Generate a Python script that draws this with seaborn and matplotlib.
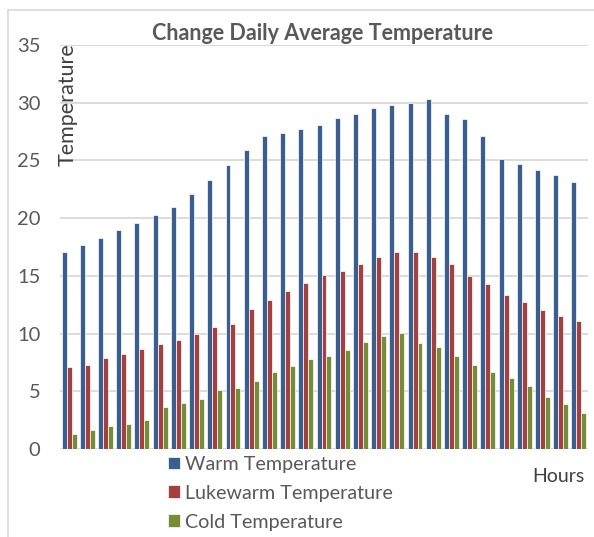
import pandas as pd
import matplotlib.pyplot as plt
import seaborn as sns
from matplotlib.lines import Line2D

hours = list(range(1, 30))
warm = [17.1, 17.7, 18.25, 18.95, 19.6, 20.3, 21.0, 22.1, 23.3, 24.6,
        25.9, 27.1, 27.4, 27.75, 28.05, 28.7, 29.0, 29.5, 29.8, 29.95,
        30.3, 29.05, 28.6, 27.1, 25.1, 24.7, 24.2, 23.7, 23.1]
lukewarm = [7.1, 7.3, 7.9, 8.2, 8.7, 9.1, 9.4, 10.0, 10.6, 10.85,
            12.1, 12.95, 13.7, 14.4, 15.1, 15.4, 16.05, 16.6, 17.1, 17.1,
            16.6, 16.0, 14.95, 14.3, 13.3, 12.7, 12.0, 11.5, 11.1]
cold = [1.3, 1.65, 2.0, 2.2, 2.5, 3.6, 4.0, 4.3, 5.1, 5.3,
        5.9, 6.7, 7.2, 7.8, 8.05, 8.6, 9.3, 9.8, 10.05, 9.2,
        8.8, 8.05, 7.25, 6.7, 6.15, 5.45, 4.5, 3.9, 3.1]
series = ["Warm Temperature", "Lukewarm Temperature", "Cold Temperature"]
colors = ["#2c5c9b", "#b33131", "#7a9b28"]

df = pd.DataFrame({"Hour": hours * 3,
                   "Value": warm + lukewarm + cold,
                   "Series": [series[0]] * 29 + [series[1]] * 29 + [series[2]] * 29})

sns.set_style("white")
plt.rcParams["font.family"] = ["Lato", "DejaVu Sans"]
grey = "#595959"

fig = plt.figure(figsize=(5.94, 5.37), dpi=100)
ax = fig.add_axes([60 / 594, 1 - 449 / 537, 528 / 594, 404 / 537])

sns.barplot(data=df, x="Hour", y="Value", hue="Series", palette=colors,
            width=0.82, edgecolor="white", linewidth=0.5, ax=ax)

ax.set_ylim(0, 35)
ax.set_xlim(-0.5, 28.5)
ax.set_yticks(range(0, 36, 5))
ax.yaxis.grid(True, color="#d9d9d9", linewidth=1.3)
ax.set_axisbelow(True)
for s in ax.spines.values():
    s.set_visible(False)
ax.set_xticks([])
ax.set_xlabel("")
ax.set_ylabel("")
ax.tick_params(axis="y", labelsize=14.5, labelcolor=grey, length=0, pad=14)

ax.legend(loc="upper left", bbox_to_anchor=(158 / 594, 1 - 446 / 537),
          bbox_transform=fig.transFigure, frameon=False, fontsize=14.2,
          handlelength=0.6, handleheight=0.6, handletextpad=0.25,
          labelspacing=0.6, labelcolor=grey, borderpad=0)

fig.text(323 / 594, 1 - 33 / 537, "Change Daily Average Temperature",
         ha="center", va="center", fontsize=15.5, fontweight="bold", color=grey)
fig.text(68 / 594, 1 - 43 / 537, "Temperature", rotation=90,
         ha="center", va="top", fontsize=15.5, color="#404040")
fig.text(558 / 594, 1 - 477 / 537, "Hours", ha="center", va="center",
         fontsize=14, color="#404040")

# outer chart border
fig.add_artist(Line2D([8 / 594, 1], [1 - 10 / 537] * 2, color="#d9d9d9", lw=1.2))
fig.add_artist(Line2D([8 / 594] * 2, [0, 1 - 10 / 537], color="#d9d9d9", lw=1.2))

fig.savefig("out.png", dpi=100)
